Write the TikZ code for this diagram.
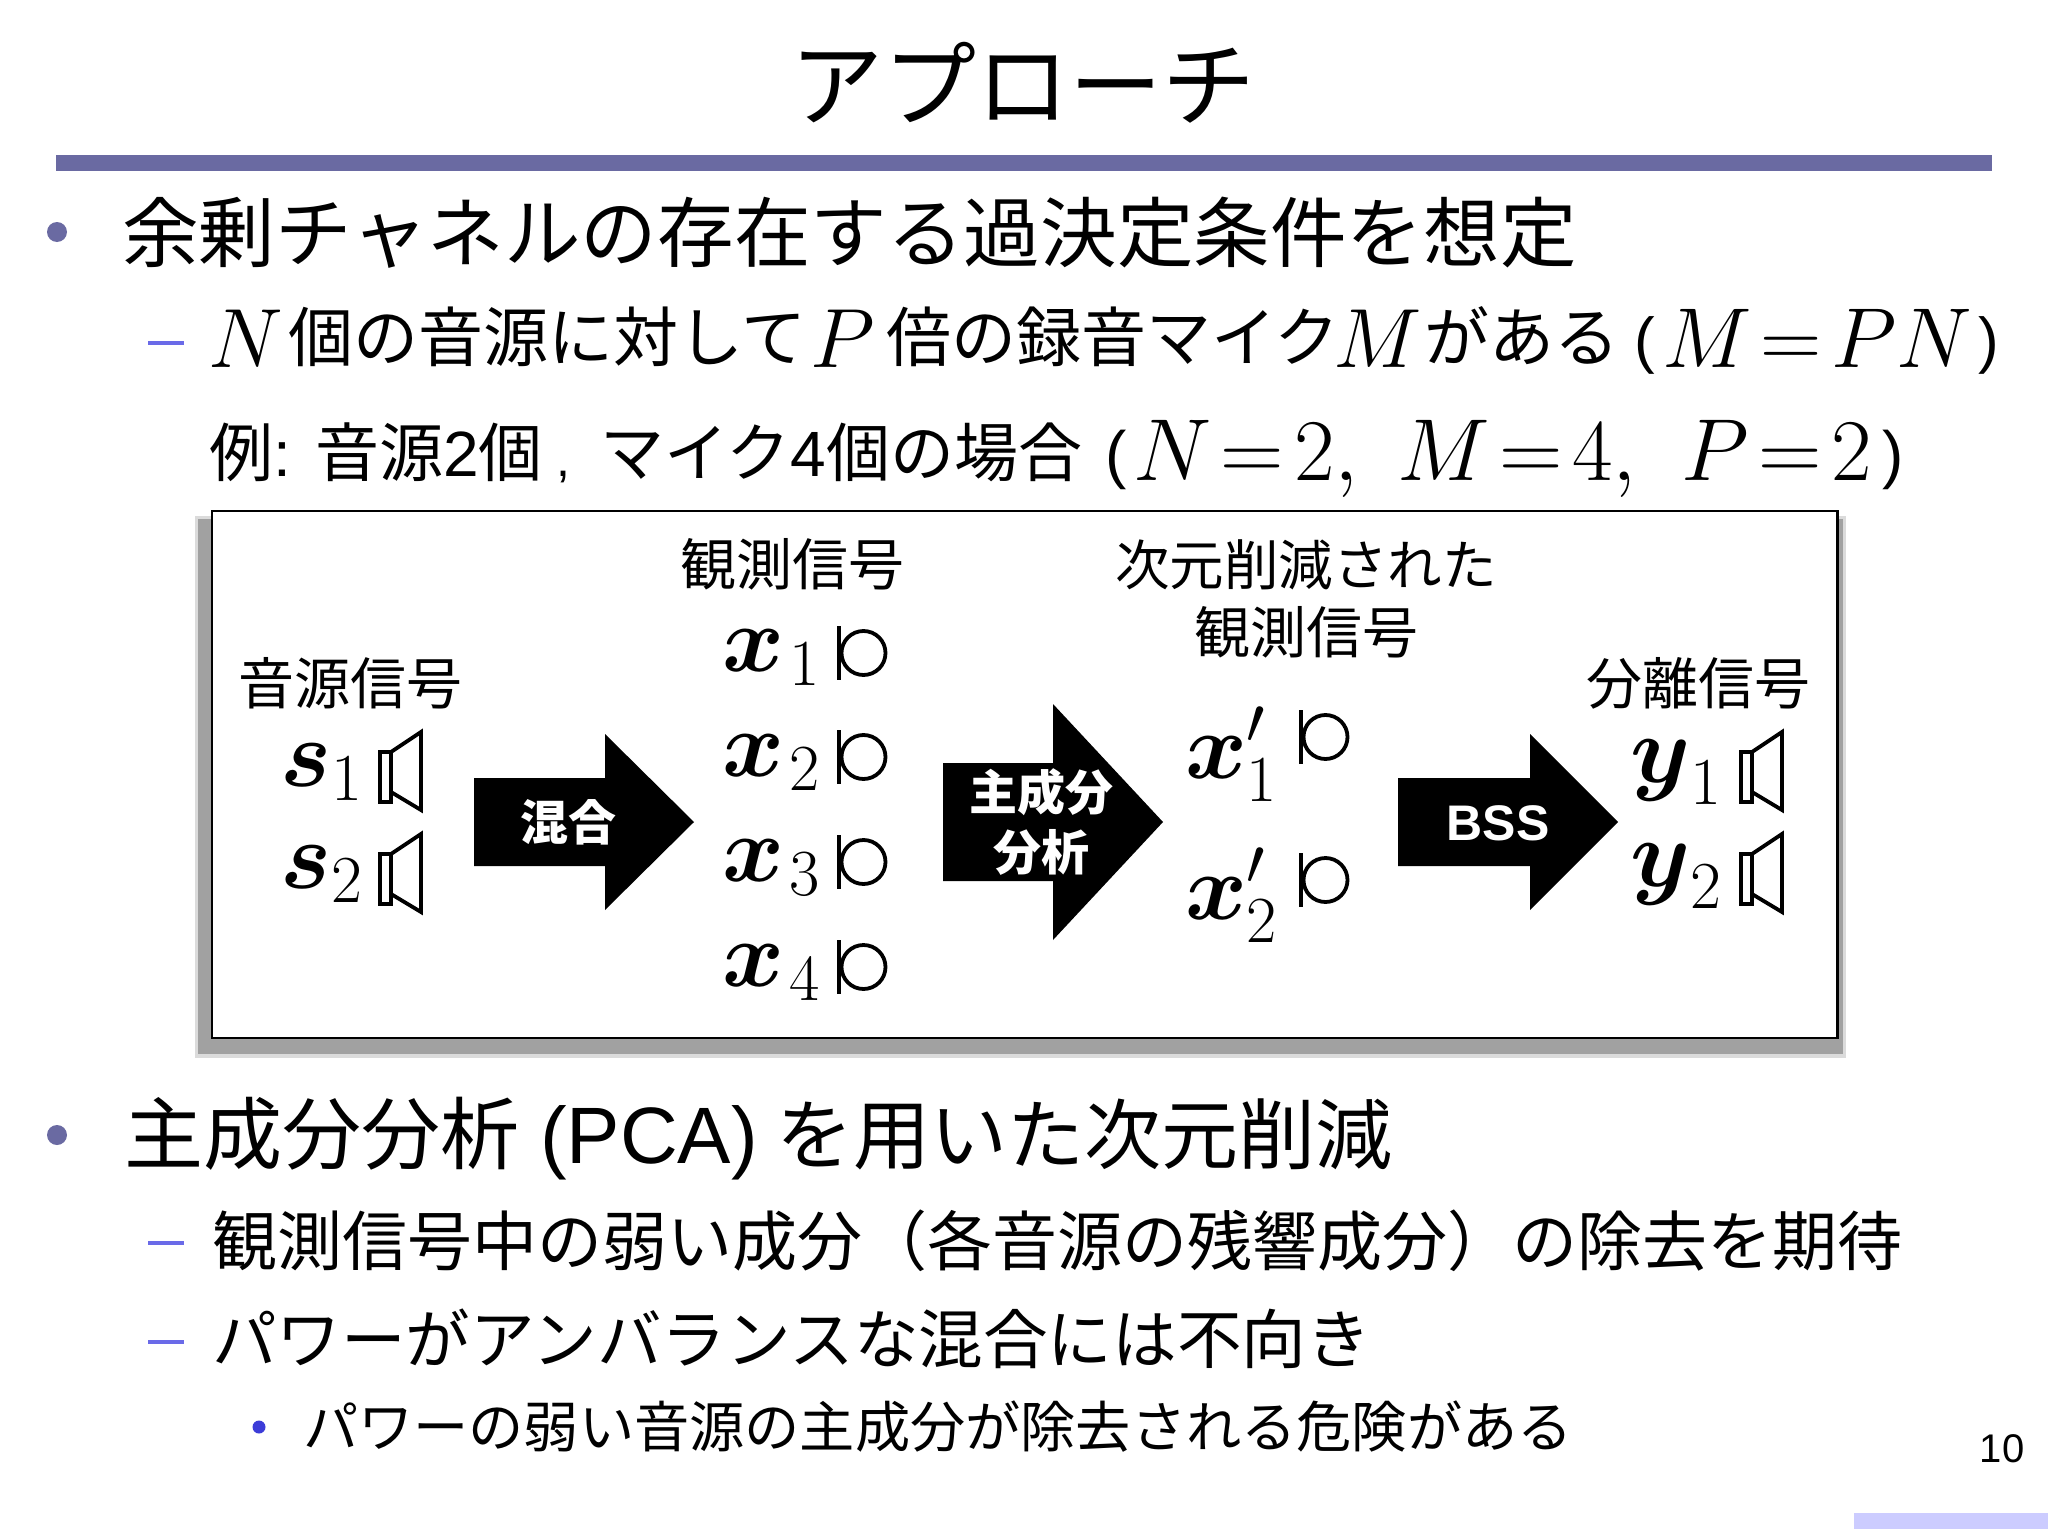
\RequirePackage{fix-cm}
\documentclass[tikz,border=0pt]{standalone}
\usepackage{amsmath}
\usepackage[no-math]{fontspec}
\setmainfont{Noto Sans CJK JP}
\newfontfamily\lat{Liberation Sans}
\definecolor{barc}{HTML}{6A6AA2}
\definecolor{dashc}{HTML}{6A6AE8}
\definecolor{dotc}{HTML}{3C3CD8}
\definecolor{footc}{HTML}{CCCCFF}
\newcommand{\fs}[1]{\fontsize{#1}{#1}\selectfont}
\newcommand{\spkr}[2]{%
  \draw[line width=3.8pt,line join=miter,fill=white] (#1,#2-15) rectangle (#1+11,#2+35) ;
  \draw[line width=3.8pt,line join=miter,fill=white] (#1+11,#2-15) -- (#1+41,#2-35) -- (#1+41,#2+43) -- (#1+11,#2+25) -- cycle;
}
\newcommand{\micr}[2]{%
  \draw[line width=3.8pt] (#1,#2-27) -- (#1,#2+27);
  \draw[line width=3.8pt] (#1+24.5,#2) circle[x radius=22,y radius=22];
}
\tikzset{
  txt/.style={anchor=base west,inner sep=0pt,outer sep=0pt},
  ctr/.style={anchor=base,inner sep=0pt,outer sep=0pt,align=center},
  blockarrow/.style={fill=black,draw=none},
  arrowlabel/.style={anchor=base,inner sep=0pt,text=white,font=\fs{48}\bfseries},
  dashmark/.style={fill=dashc,draw=none},
  bullet/.style={fill=barc,draw=none},
}
\begin{document}
\begin{tikzpicture}[x=1pt,y=-1pt]
\useasboundingbox (0,0) rectangle (2048,1536);
\fill[white] (0,0) rectangle (2048,1536);
% title
\node[ctr] (title) at (1023,120) {\fs{93}アプローチ};
\fill[barc] (56,155) rectangle (1992,171);
% first block
\fill[bullet] (57,232) circle (10);
\node[txt] (l1) at (122,261) {\fs{76.6}余剰チャネルの存在する過決定条件を想定};
\fill[dashmark] (148,341) rectangle (184,345);
\node[txt] (l2a) at (208,367) {\fs{84}$N$};
\node[txt] (l2b) at (288,361) {\fs{65}個の音源に対して};
\node[txt] (l2c) at (810,367) {\fs{84}$P$};
\node[txt] (l2d) at (886,361) {\fs{65}倍の録音マイク};
\node[txt] (l2e) at (1333,367) {\fs{84}$M$};
\node[txt] (l2f) at (1424,361) {\fs{65}がある};
\node[txt] (l2g) at (1634,361) {\fs{62}\lat(};
\node[txt] (l2h) at (1662,367) {\fs{85}$M\!=\!PN$};
\node[txt] (l2i) at (1978,361) {\fs{62}\lat)};
\node[txt] (l3a) at (209,476) {\fs{64}例{\lat:}};
\node[txt] (l3b) at (315,476) {\fs{64}音源{\lat 2}個};
\node[txt] (l3c) at (556,476) {\fs{50}\lat,};
\node[txt] (l3d) at (600,476) {\fs{64}マイク{\lat 4}個の場合};
\node[txt] (l3e) at (1105,476) {\fs{64}\lat(};
\node[txt] (l3f) at (1133,480) {\fs{88}$N\!=\!2,$};
\node[txt] (l3g) at (1397,480) {\fs{88}$M\!=\!4,$};
\node[txt] (l3h) at (1681,480) {\fs{88}$P\!=\!2$};
\node[txt] (l3i) at (1882,476) {\fs{64}\lat)};
% figure panel
\fill[black!14] (195,516) rectangle (1846,1058);
\fill[black!37] (198,519) rectangle (1843,1054);
\draw[line width=2.6pt,fill=white] (212,511) rectangle (1837.5,1038);
% labels
\node[ctr] (lab1) at (350,704) {\fs{56}音源信号};
\node[ctr] (lab2) at (792,585) {\fs{56}観測信号};
\node[ctr] (lab3) at (1306,585) {\fs{54.5}次元削減された};
\node[ctr] (lab4) at (1306,653) {\fs{56}観測信号};
\node[ctr] (lab5) at (1698,704) {\fs{56}分離信号};
% sources
\node[txt] (s1) at (280,786) {\fs{96}$\boldsymbol{s}_{1}$};
\node[txt] (s2) at (280,888) {\fs{96}$\boldsymbol{s}_{2}$};
\spkr{380}{767}
\spkr{380}{869}
% arrow 1
\fill[blockarrow] (474,778) -- (605,778) -- (605,734) -- (694,822) -- (605,910) -- (605,866) -- (474,866) -- cycle;
\node[arrowlabel] (a1) at (568,840) {混合};
% observed
\node[txt] (x1) at (722,671) {\fs{94}$\boldsymbol{x}_{\mkern1.5mu 1}$};
\node[txt] (x2) at (722,776) {\fs{94}$\boldsymbol{x}_{\mkern1.5mu 2}$};
\node[txt] (x3) at (722,881) {\fs{94}$\boldsymbol{x}_{\mkern1.5mu 3}$};
\node[txt] (x4) at (722,986) {\fs{94}$\boldsymbol{x}_{\mkern1.5mu 4}$};
\micr{839}{653}
\micr{839}{757}
\micr{839}{862}
\micr{839}{967}
% arrow 2
\fill[blockarrow] (943,763) -- (1053,763) -- (1053,704) -- (1163,822) -- (1053,940) -- (1053,881) -- (943,881) -- cycle;
\node[arrowlabel] (a2a) at (1041,810) {主成分};
\node[arrowlabel] (a2b) at (1041,870) {分析};
% reduced
\node[txt] (xp1) at (1185,778) {\fs{94}$\boldsymbol{x}'_{1}$};
\node[txt] (xp2) at (1185,919) {\fs{94}$\boldsymbol{x}'_{2}$};
\micr{1301}{737}
\micr{1301}{880}
% arrow 3
\fill[blockarrow] (1398,778) -- (1530,778) -- (1530,734) -- (1618,822) -- (1530,910) -- (1530,866) -- (1398,866) -- cycle;
\node[arrowlabel,font=\fs{50}\bfseries\lat] (a3) at (1498,840) {BSS};
% separated
\node[txt] (y1) at (1630,782) {\fs{96}$\boldsymbol{y}_{1}$};
\node[txt] (y2) at (1630,886) {\fs{96}$\boldsymbol{y}_{2}$};
\spkr{1741}{767}
\spkr{1741}{869}
% second block
\fill[bullet] (57,1135) circle (10);
\node[txt] (m1a) at (124,1163) {\fs{79}主成分分析};
\node[txt] (m1b) at (540,1163) {\fs{80}\lat(PCA)};
\node[txt] (m1c) at (776,1163) {\fs{77}を用いた次元削減};
\fill[dashmark] (148,1241) rectangle (184,1245);
\node[txt] (m2) at (212,1265) {\fs{65}観測信号中の弱い成分（各音源の残響成分）の除去を期待};
\fill[dashmark] (148,1340) rectangle (184,1344);
\node[txt] (m3) at (212,1363) {\fs{64.6}パワーがアンバランスな混合には不向き};
\fill[dotc] (259,1427) circle (6.5);
\node[txt] (m4) at (303,1447) {\fs{55.2}パワーの弱い音源の主成分が除去される危険がある};
% footer
\node[ctr] (pg) at (2002,1462) {\fs{40}\lat 10};
\fill[footc] (1854,1513) rectangle (2048,1529);
\end{tikzpicture}
\end{document}
